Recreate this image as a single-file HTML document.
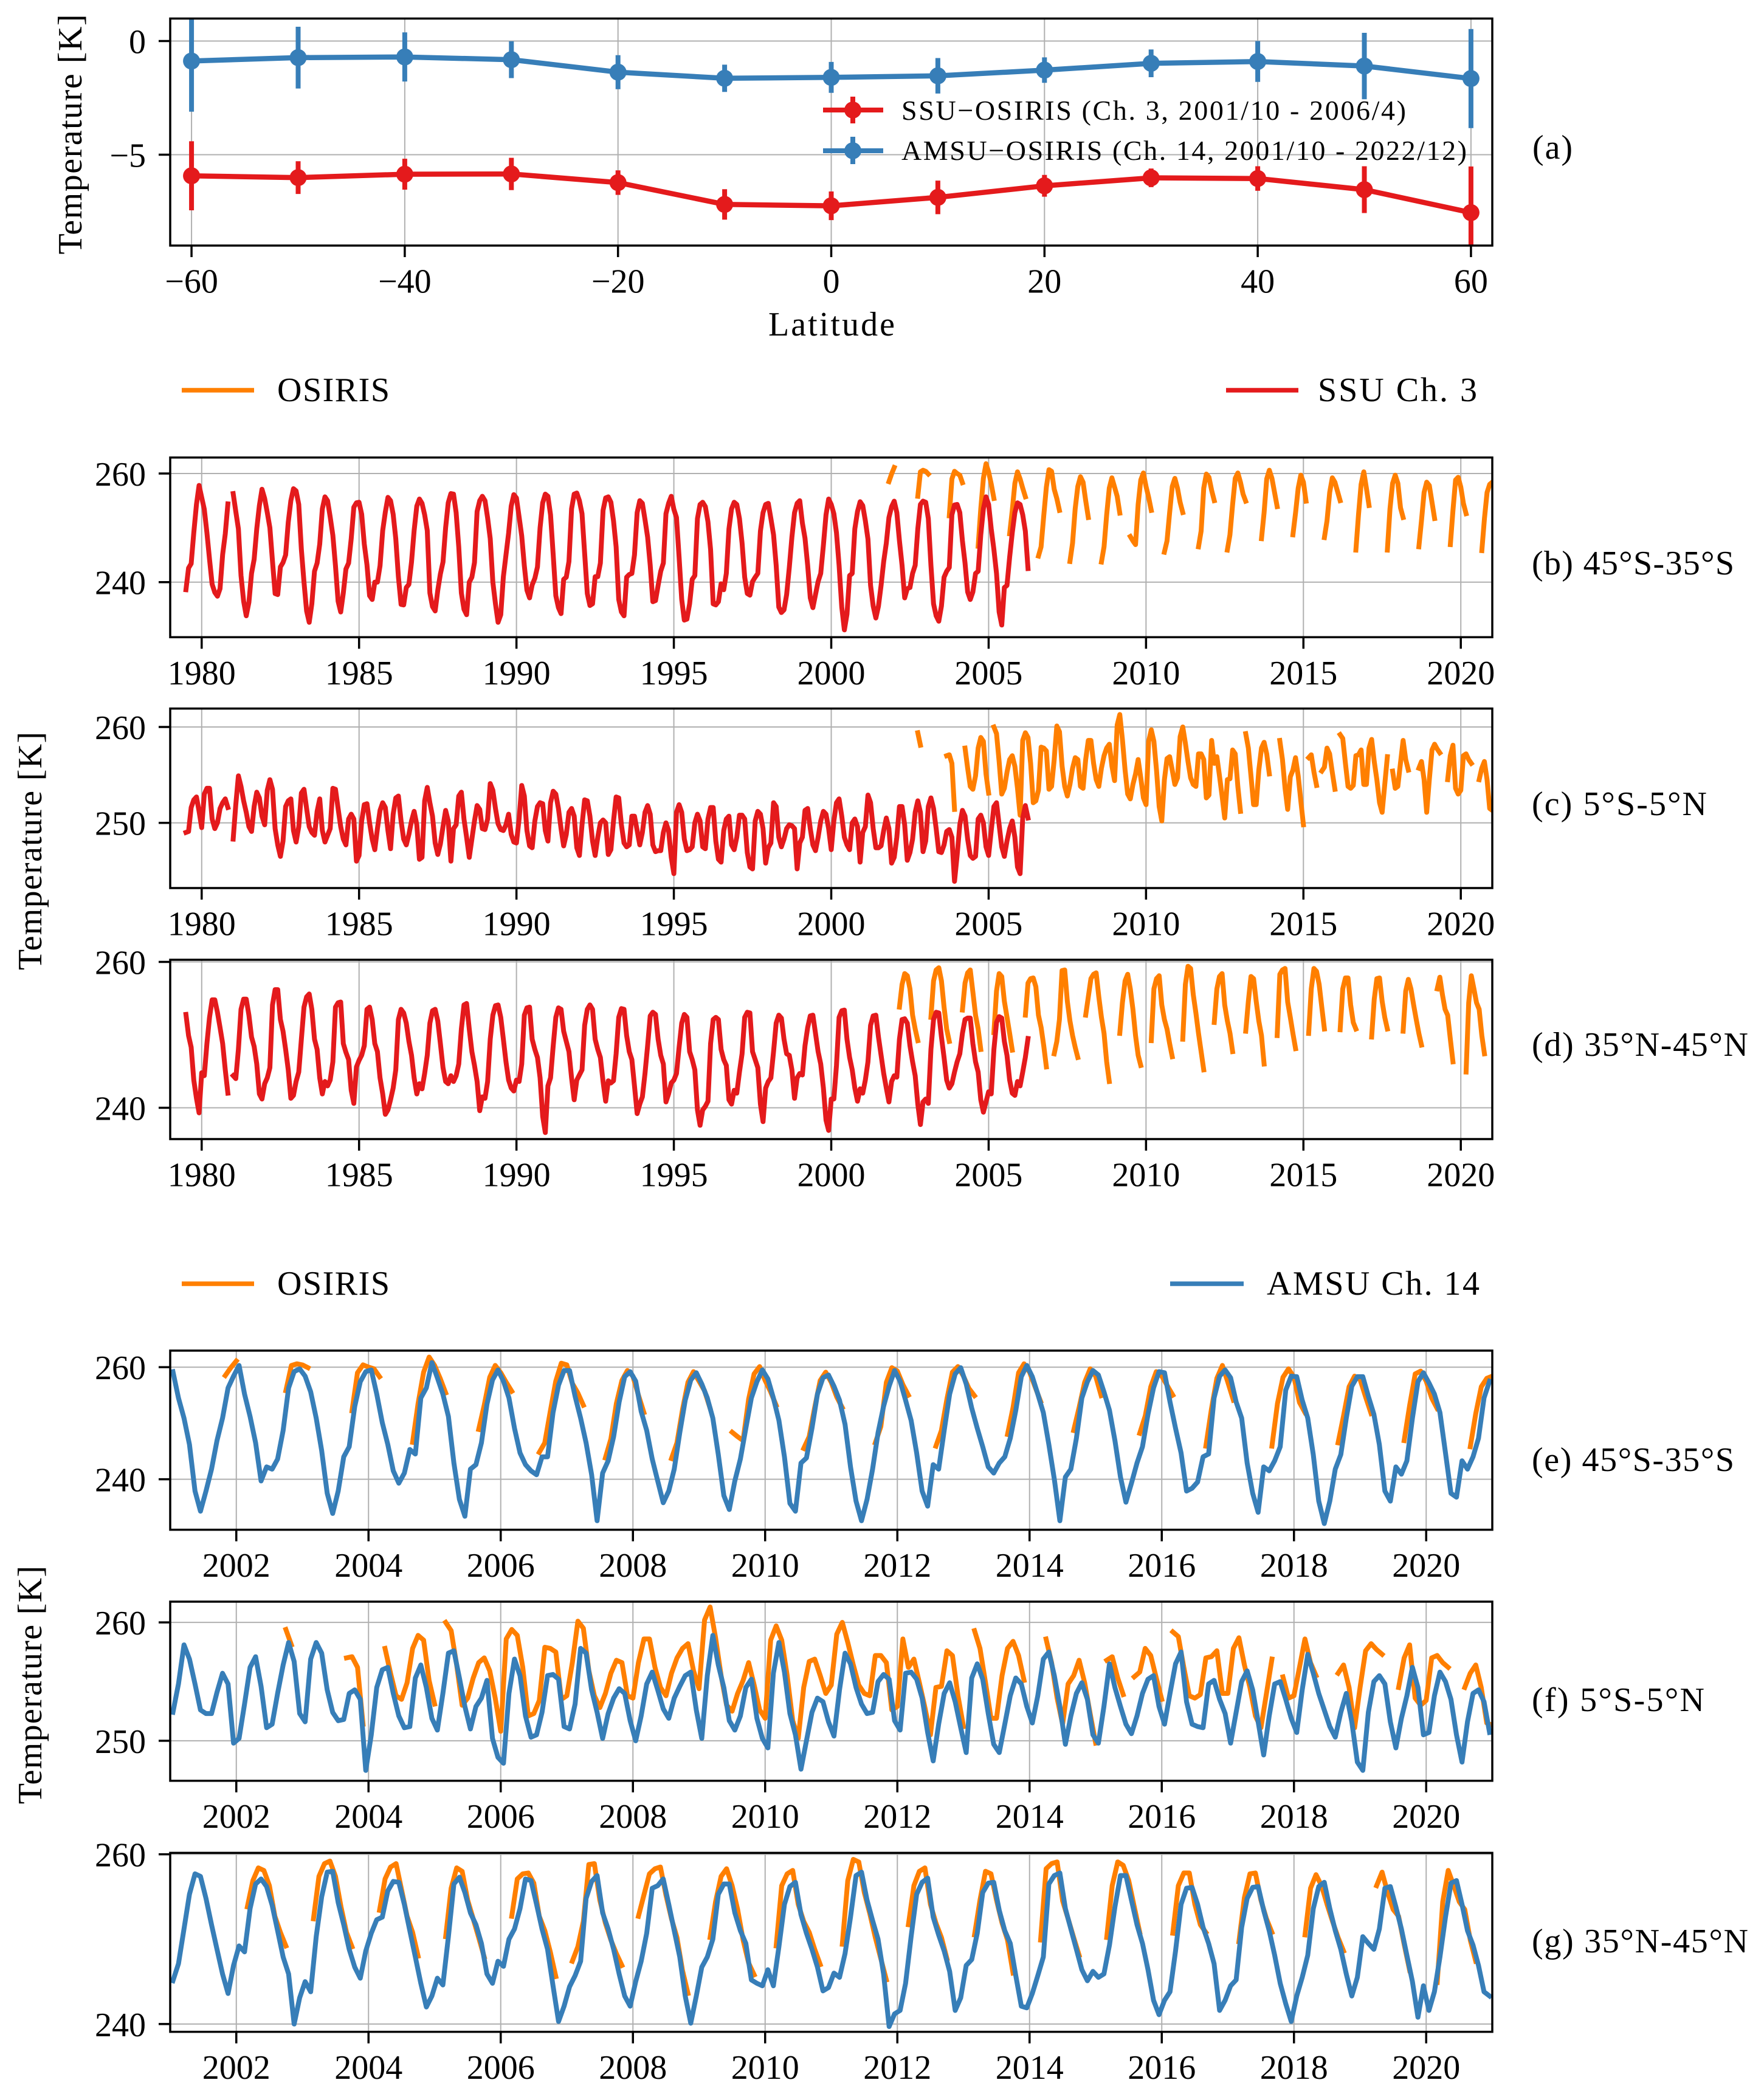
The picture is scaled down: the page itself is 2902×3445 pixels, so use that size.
<!DOCTYPE html>
<html lang="en">
<head>
<meta charset="utf-8">
<title>OSIRIS, SSU and AMSU temperature comparison</title>
<style>
html,body{margin:0;padding:0;background:#fff;}
svg{display:block;}
text{font-family:"Liberation Serif",serif;fill:#000;font-size:56px;}
.leg{font-size:46px;}
</style>
</head>
<body>
<svg id="figure" xmlns="http://www.w3.org/2000/svg" width="2902" height="3445" viewBox="0 0 2902 3445">
<rect x="0" y="0" width="2902" height="3445" fill="#ffffff"/>
<g id="axes-layer"></g>

<text transform="translate(134,221) rotate(-90)" text-anchor="middle" textLength="395" lengthAdjust="spacing">Temperature [K]</text>
<text x="1368" y="552" text-anchor="middle" textLength="208" lengthAdjust="spacing">Latitude</text>
<text transform="translate(68,1400) rotate(-90)" text-anchor="middle" textLength="392" lengthAdjust="spacing">Temperature [K]</text>
<text transform="translate(68,2772) rotate(-90)" text-anchor="middle" textLength="392" lengthAdjust="spacing">Temperature [K]</text>

<g>
  <g>
    <line x1="1354" y1="181" x2="1453" y2="181" stroke="#e41a1c" stroke-width="8"/>
    <line x1="1403" y1="159" x2="1403" y2="203" stroke="#e41a1c" stroke-width="8"/>
    <circle cx="1403" cy="181" r="14" fill="#e41a1c"/>
    <text class="leg" x="1483" y="197" textLength="830" lengthAdjust="spacing">SSU−OSIRIS (Ch. 3, 2001/10 - 2006/4)</text>
  </g>
  <g>
    <line x1="1354" y1="248" x2="1453" y2="248" stroke="#377eb8" stroke-width="8"/>
    <line x1="1403" y1="225" x2="1403" y2="270" stroke="#377eb8" stroke-width="8"/>
    <circle cx="1403" cy="248" r="14" fill="#377eb8"/>
    <text class="leg" x="1483" y="263" textLength="930" lengthAdjust="spacing">AMSU−OSIRIS (Ch. 14, 2001/10 - 2022/12)</text>
  </g>
</g>

<g>
  <g>
    <line x1="299" y1="642" x2="418" y2="642" stroke="#ff7f00" stroke-width="7.5"/>
    <text x="456" y="660" textLength="185" lengthAdjust="spacing">OSIRIS</text>
  </g>
  <g>
    <line x1="2017" y1="642" x2="2136" y2="642" stroke="#e41a1c" stroke-width="7.5"/>
    <text x="2168" y="660" textLength="262" lengthAdjust="spacing">SSU Ch. 3</text>
  </g>
</g>

<g>
  <g>
    <line x1="299" y1="2112" x2="418" y2="2112" stroke="#ff7f00" stroke-width="7.5"/>
    <text x="456" y="2130" textLength="185" lengthAdjust="spacing">OSIRIS</text>
  </g>
  <g>
    <line x1="1925" y1="2112" x2="2046" y2="2112" stroke="#377eb8" stroke-width="7.5"/>
    <text x="2084" y="2130" textLength="350" lengthAdjust="spacing">AMSU Ch. 14</text>
  </g>
</g>

<text x="2521" y="261" textLength="66" lengthAdjust="spacing">(a)</text>
<text x="2520" y="945" textLength="333" lengthAdjust="spacing">(b) 45°S-35°S</text>
<text x="2520" y="1341" textLength="288" lengthAdjust="spacing">(c) 5°S-5°N</text>
<text x="2520" y="1737" textLength="356" lengthAdjust="spacing">(d) 35°N-45°N</text>
<text x="2520" y="2420" textLength="333" lengthAdjust="spacing">(e) 45°S-35°S</text>
<text x="2520" y="2815" textLength="284" lengthAdjust="spacing">(f) 5°S-5°N</text>
<text x="2520" y="3212" textLength="356" lengthAdjust="spacing">(g) 35°N-45°N</text>
</svg>

<script>
// ---------- Panel (a) data ----------
const latitudes = [-60,-50,-40,-30,-20,-10,0,10,20,30,40,50,60];
const ssuDiff = [-5.93,-6.01,-5.86,-5.85,-6.23,-7.19,-7.25,-6.88,-6.37,-6.02,-6.05,-6.54,-7.55];
const ssuErr = [1.52,0.72,0.68,0.71,0.54,0.67,0.63,0.74,0.48,0.41,0.54,1.03,2.03];
const amsuDiff = [-0.88,-0.73,-0.70,-0.82,-1.37,-1.64,-1.60,-1.53,-1.28,-0.98,-0.90,-1.10,-1.65];
const amsuErr = [2.23,1.36,1.08,0.81,0.75,0.60,0.68,0.78,0.56,0.61,0.90,1.46,2.18];

// ---------- Tick labels ----------
const latTicks = [-60,-40,-20,0,20,40,60];
const diffTicks = [0,-5];
const longYearTicks = [1980,1985,1990,1995,2000,2005,2010,2015,2020];
const shortYearTicks = [2002,2004,2006,2008,2010,2012,2014,2016,2018,2020];
const midLatTempTicks = [240,260];
const tropicTempTicks = [250,260];

// ---------- SSU Ch.3 monthly series, from 1979 Jul ----------
const ssuStartYear = 1979.5;
const ssuSouth = [
238.6,242.6,243.4,249.1,254.3,257.8,
255.6,253.4,249.1,244.2,239.6,238.1,237.4,238.8,245.1,248.9,254.4,null,
256.3,253,249.8,241.2,236.5,233.8,236.3,241.6,244.2,249.8,254.1,257.1,
255.4,252.8,250,243.8,237.9,237.7,242.8,243.6,245,251,255,257.2,
256.8,254.3,246,240,234.7,232.6,236,242,243.5,247,253.5,255.7,
255,252,248.6,243,236.5,234.5,238,242.4,243.5,248,253.8,254.6,
254.7,252.5,247,243.2,237.5,236.8,240,240,243,249.5,252.9,255.6,
255,252.5,248,241,235.9,235.8,239,239.6,243.7,249.5,254,255.3,
254.5,252.4,249.5,238,235.5,234.7,238.5,241.5,243.7,250,254.6,256.3,
256.2,252.8,246.5,238,235,234,240,240.9,243.6,253,255,255.8,
255,251.8,248,240,236,232.6,234,241,245,249,254,256.1,
255.5,252,248.5,243,238.5,237.1,239.5,240.7,242.8,250,254.6,256.2,
255.8,252.4,245,237.5,235.3,234.2,240.5,240.9,243.8,253.5,256.2,256.4,
255,252.6,245.3,237.9,235.7,236,241,241,243.5,253.2,255.5,255.7,
254.7,251.3,246.5,236.8,234.5,233.8,240.9,241.4,241.6,245,252.8,255,
254.5,251.5,248.3,243.1,236.4,236.6,239.4,242,243.5,252.6,254.5,255.8,
253.4,251.9,244.6,236.8,233,233.2,236,240.5,241.2,251.7,254.3,254.7,
253.9,251.1,246,236,235.8,236.4,239.7,238.6,241.6,249.8,253.5,254.7,
254.3,251.7,247.2,240.9,237.9,237.6,240.1,240.9,241.6,249.4,252.8,254.3,
254.5,251.7,248.7,243.1,235.4,234.4,234.9,237.7,242.7,248.3,252.8,254.5,
255,250.9,248.1,243.1,237.1,235.3,237.7,240.1,241.6,246.8,252.4,255.3,
254.3,252.6,249.1,243.1,235.4,231.2,234.1,241.2,241.6,249.8,253,254.8,
254.1,251.3,247.9,239.4,235.6,233.4,235.6,239.4,243.8,247.2,251.9,253.9,
254.9,252.8,247.6,243.1,237.1,238.8,239,241.6,243.1,249.8,254.3,254.9,
254.7,251.7,243.1,236,233.8,232.8,235.6,240.9,242,242.7,252.4,254.2,
254.3,252.8,247.6,243.5,238.2,236.8,238.2,241.6,242,248.7,253.5,255.7,
254.3,249.8,246,241.6,234.5,232.1,239,239.4,244.6,249.1,252.8,254.6,
254.3,252.4,249.4,242.5
];
const ssuEquator = [
249,249.1,251.6,252.4,252.7,251.2,
249.5,253,253.6,253.6,250.4,249.4,250,251.5,252.1,252.5,251.6,null,
248.3,251.9,254.9,253.8,252.3,251.1,249.6,249.1,251.7,253.2,252.6,250.7,
249.8,253.4,254.5,253.5,249.4,247.7,246.5,248.1,251.7,252.3,252.5,249.2,
248,249.6,253.1,253.5,251.5,249.6,249,248.7,251.2,252.5,249.2,248,
248.7,249.4,253.6,253.5,251.5,249.6,248.3,247.7,250.4,250.9,250.4,246,
246.6,250.2,251.9,252,250,248.3,247.2,249.4,251.3,252.1,251.6,249.2,
247.3,250.9,252.6,252.8,250.2,248.3,247.7,248.8,250.2,251.2,249.8,246.2,
246.4,252.3,253.7,252.1,250.7,247.9,246.7,247.8,249.6,251.3,250.2,246,
249.4,249.8,252.8,253.2,250.4,248.5,246.4,248.3,250.2,251.8,251.4,249.4,
249.3,250.4,254.1,253.4,251.5,249.9,249.3,249.2,249.8,250.9,248.8,248,
247.9,250.4,253.9,252.8,249.2,247.6,247.4,250.2,251.7,252.1,252,249.2,
248.1,252.1,253.3,253,251.5,249.4,247.6,248.8,251.1,251.5,250.7,247.4,
246.6,249.8,252.4,252.3,250.7,248.1,246.6,248.5,250,250.3,250,246.7,
247.2,250.2,252.7,252.6,249.8,247.9,247.5,247.7,250.7,250.7,249.2,247.7,
249,251.1,251.8,250.9,247.7,247,247.1,247.1,249,250,249.2,246.4,
244.7,251.1,251.9,251.1,248.3,247.1,247.2,247.5,250,250.9,250.2,247.5,
247.3,250.4,251.6,251.6,248.1,246.2,245.9,249.2,250.4,250.7,247.7,247.2,
248.5,250.8,250.8,250.4,246.9,245.4,245.2,250.2,251.2,250.9,249.4,245.8,
247.4,247.9,252.1,251.7,248.5,247.5,248.3,249.4,249.8,249.7,249.4,245.2,
247.9,248.5,251.3,251.5,249.4,247.7,247.1,248.5,250.2,251.2,250.9,249.4,
247.2,250.2,252.1,252.5,250.7,248.5,247.7,247.2,250,250.4,249.6,245.9,
249,249.6,252.9,252.1,249.4,247.4,247.4,247.6,249.2,250.5,249.4,245.8,
246.4,248.5,251.7,251.7,249.8,246.1,246.9,248.3,251.1,252.3,251.1,247,
248.1,251.7,252.6,251.5,249.4,247,246.9,247.7,249.1,249.3,248.5,243.9,
246.6,249.8,251.3,250.7,248.3,246.6,246.3,246.5,250.4,250.8,250,247.5,
246.6,249.2,251.7,252.1,249.8,247.5,246.5,248.1,249.4,250.2,248.5,245.4,
244.7,250.5,251.8,250.5
];
const ssuNorth = [
252.8,249.9,248.3,243.8,241.3,239.3,
244.8,244.4,248.8,252.4,254.8,254.8,253.1,251,248.8,245.2,242,null,
244.4,244,248,253.5,254.9,254.9,252.7,249.7,248.4,246,241.9,241.2,
243.3,244.1,245.5,254.1,256.2,256.2,252.1,250.5,248,245.2,241.3,241.7,
243.6,244.9,249.4,253.8,255.2,255.6,253.5,249.4,248,244.1,241.9,243.6,
243,243.8,246.3,253.8,254.4,254.5,248.8,247.6,246.6,242.4,240.6,245.6,
246.5,247.2,248.5,253.5,253.8,252.1,248.8,247.7,244.1,241.9,239.1,239.7,
241.1,242.7,245.2,252.1,253.5,253,251.6,249.1,247.2,244.1,241.9,243.3,
242.6,244.7,247.2,251.6,253.3,253.5,251.9,248.8,245.5,243.6,243.3,244.4,
243.6,244.4,246,250.8,254.1,254.3,250.8,247.7,245.8,243.6,239.6,241.5,
241.3,243.6,249.4,252.7,254,254.1,252.4,249.4,246.3,243.8,242.7,242.3,
243.8,243.6,246,252.7,253.7,253.8,249.4,248,246.9,244.1,238.8,236.6,
243,244.1,248.5,252.4,253.7,253.5,250.5,249.1,247.7,244.1,241.1,243.8,
244.5,245.2,251.3,253.5,254.1,253.5,249.4,248,246.9,243.6,240.9,243.7,
243.4,243.7,247.4,252.4,253.6,253.5,249.9,247.7,246.6,243,239.2,240.5,
241.5,244.7,248.5,252.6,253.1,252.8,249.4,247.2,246,240.8,241.9,243.4,
243.8,244.7,248.3,251.6,252.8,252.4,247.7,246.6,245.2,239.7,237.6,239.7,
240.2,240.9,248.8,252.1,252.4,252.1,248,246.6,245.8,241.1,240.5,242.4,
242,244.9,247.4,252.4,253.1,253,247.7,246.6,245.5,240.5,238.1,242.7,
243.6,244.1,247.7,251.6,252.7,252.3,249.4,247.4,247.2,245.2,241.3,244.1,
244.7,244.5,248.5,251,252.6,252.7,250.2,247.7,246,242.7,238.3,236.9,
241.2,241.2,245.8,252.4,253.3,253.4,249.4,246.9,245.2,242.7,240.9,242.6,
242,243.8,246.3,251.3,252.6,252.7,249.7,247.2,244.7,242.7,240.8,243.6,
244.4,244.2,249.4,252.1,252.2,251.6,248.5,246.3,244.4,240.5,237.7,240.8,
241.2,240.6,248,252.1,253.1,253,249.7,246.9,243.8,242.7,243.3,244.9,
246.3,247.4,250.2,252.1,252.3,252.3,248.8,246.3,244.9,241.1,239.4,240.8,
242.2,241.9,248,251.7,252.5,252.3,249.1,247.2,243.8,242,241.7,243.6,
243,244.9,246.9,249.5
];

// ---------- AMSU Ch.14 monthly series, from 2001 Jan (mid-month) ----------
const amsuStartYear = 2001.0417;
const amsuSouth = [
259.2,254.5,250.9,246.2,237.9,234.3,237.9,241.8,246.9,250.9,256.3,258.4,
260.3,255.2,251.2,246.5,239.7,242.2,241.8,243.6,248.7,256.3,259.2,259.7,
258.4,255.6,250.9,245.1,237.5,233.9,237.9,244,245.8,253,257.4,259.2,
259.5,255.2,250.1,246.2,241.5,239.3,241.1,245.3,244.5,254.5,256.3,260.8,
258.1,255.2,251.2,242.9,236.4,233.4,241.8,242.6,246.5,253.4,257.7,259.5,
257.5,254.5,249.1,244.7,242.6,241.5,240.8,244,244,251.9,256.8,259.4,
259.4,254.8,250.9,246.5,240.8,232.6,241.1,243.3,247.6,253.8,258.3,259.2,
257.5,252.1,248.7,243.6,239.7,235.8,237.9,241.8,248.3,254.1,257.7,259,
257,254.5,250.9,244.4,237.1,234.6,239.7,243.6,249.1,254.5,257.4,259.5,
257.9,254.5,250.5,244,235.7,234.3,242.9,243.8,249.1,255.2,258.1,258.6,
256.6,254.1,249.8,242.2,236.1,232.6,236.4,241.8,248.3,253,256.6,259.4,
257.5,254.1,250.5,244.7,237.9,235.2,242.6,241.8,248.7,255.2,258.8,259.9,
257,252.7,249.1,245.8,242.2,241.1,242.9,244,247.3,252.3,258.3,260.3,
258.3,255.2,251.9,246.2,240,232.6,240.4,241.8,247.3,254.5,257.4,259.4,
258.6,255.6,252.3,246.9,240.4,235.9,239.3,242.9,245.8,251.6,256.3,259.2,
259,253.8,249.1,244.7,237.9,238.4,239.5,244,244.5,254.5,258.4,259.5,
258.1,253.8,250.9,242.9,237.5,234.1,242.2,241.5,243.3,245.8,255.9,258.4,
258.3,254.1,250.9,244.4,236.1,232.1,236.1,241.8,244.4,250.9,256.6,258.3,
258.3,254.8,251.6,246.2,237.9,236.1,242.2,240.9,243.3,250.9,257.4,259,
257.2,255.2,251.9,244.7,237.5,236.8,243.3,241.8,244,247.3,254.5,257.5
];
const amsuEquator = [
252.4,254.8,258.1,256.9,254.8,252.6,252.3,252.3,254.1,255.7,254.8,249.8,
250.2,253.1,256.2,257.1,254.6,251.1,251.4,254,256.4,258.3,256.7,252.3,
251.6,256.9,258.3,257.4,254.3,252.4,251.7,251.8,254,254.3,253.5,247.5,
250.5,254.5,256,256.2,254,252.1,251.1,251.2,255.3,256.4,254.5,251.9,
250.9,254,257.4,257.6,255.3,252.9,251,252.9,253.6,255.1,250.2,248.6,
248.1,254,256.9,255.5,252.1,250.3,250.5,252.4,255.5,255.6,255.2,251.2,
251,253.1,257.8,257.4,254.3,252.4,250.2,252.3,253.6,254.4,254,251.7,
250,252.1,254.8,255.8,254.3,252.7,251.9,253.6,254.6,255.5,255.8,252.6,
250.2,255.5,258.9,256.4,254.5,251.7,250.9,252.1,254.5,255.2,251.9,250.2,
249.4,255.7,258.3,255.8,252.3,250.5,247.6,250,252.4,253.6,253.3,251.6,
250.4,254.3,257.4,256.5,254.5,253.1,252.3,252.4,255,255.6,255.2,251.7,
250.9,255.7,255.8,255.2,253.6,250.7,248.3,251.4,254,254.9,253.3,251.1,
249,255.3,256.5,255.2,252.3,249.7,249,251.4,253.8,255.3,254.8,252.9,
251.5,253.8,256.9,257.5,255.5,252.9,249.7,252.1,254,254.9,253.5,250.5,
249.8,252.9,256.5,254.5,252.9,251.4,250.6,252.1,254,255.2,255.5,252.9,
251.4,254,256.5,257.5,253.3,251.4,251.2,251.1,254.8,255.1,253.5,252.3,
249.8,252.4,255,255.9,254.3,251.6,248.8,252.1,254.8,255,253.5,251.9,
250.7,254.3,257.3,255.7,254,252.6,251.2,250.3,252.4,254,251.6,248.2,
247.5,252.4,255,255.5,254.8,251.6,249.4,251.9,253.8,256.2,254.5,250.5,
250.7,253.8,255.8,255,253.5,250.5,248.2,251.6,254,254.3,253.3,250.7
];
const amsuNorth = [
245.1,247.1,251.2,255.3,257.7,257.4,254.8,251.7,248.8,245.9,243.6,246.9,
249.2,248.5,253.6,256.5,257.1,256.2,254,251,247.9,245.9,240,243.1,
245,243.8,250.3,255,257.9,258,254.3,251.7,248.8,246.7,245.4,248.6,
250.7,252.3,252.6,255.7,256.8,256.7,254.1,251,247.9,244.8,242,243.3,
245.4,244.6,250.3,256.5,257.3,255.5,253.1,251.7,249.5,245.9,244.8,247.4,
246.8,250,251.2,253.6,257.1,256.9,254.1,251.2,248.8,244.5,240.3,242.1,
244.4,245.7,247.4,254.8,256.8,257.5,253.1,251.2,248.8,245.9,243.3,242.1,
245,247.4,250.7,256,256.3,257.1,254.1,251,247.9,243.3,240.1,243.3,
246.7,247.9,250,255.3,256.5,256.5,253.1,251,249.5,245.2,244.8,244.5,
246.4,244.5,249.1,254.1,256.2,256.7,252.9,250.7,248.8,246.7,243.9,244.3,
246,245.5,248.3,252.6,257.5,257.9,254.6,252.2,250,245.9,239.7,241.2,
241.6,244.8,250.3,255.3,256.7,257.2,252.6,250.5,248.6,246.2,241.6,243.1,
246.9,247.6,250.7,255.5,256.6,256.7,253.4,251,249.5,245.7,242.1,241.9,
243.6,245.7,247.9,256.5,257.5,257.8,253.6,251.2,248.8,246.4,245.1,246.2,
245.5,245.9,249.3,253.8,257.5,257.5,254.6,251.7,249.5,246.4,242.8,241.1,
242.8,243.8,248.6,254.1,256,256.1,254.1,251.4,249.5,247.1,241.6,242.8,
244.5,245.2,251.4,254.8,256.1,256.2,253.4,251,248.1,244.8,242.4,240.3,
243.3,245.5,248.1,253.6,256.2,256.7,253.6,251,248.8,245.9,243.3,245.5,
250.3,249.5,248.8,251.2,256,256.2,253.8,251.2,248.1,245,240.8,244.5,
241.6,243.8,247.9,252.6,256.6,256.9,254.1,251,249.3,246.9,243.8,243.3
];

// ---------- OSIRIS observing segments (first month as decimal year + monthly values) ----------
const osirisSouthStarts = [2001.833,2002.75,2003.75,2004.667,2005.667,2006.583,2007.583,2008.583,2009.5,2010.583,2011.667,2012.583,2013.667,2014.667,2015.667,2016.667,2017.667,2018.667,2019.667,2020.667];
const osirisSouthValues = [
[258.5,259.9,261.1],
[255.8,260.3,260.6,260.4,259.9],
[252.2,259,260.4,260,259.7,258.3],
[246.6,253.5,259.1,261.8,260.3,258,255.4],
[248.9,253.2,258.2,260.3,259,257.3,255.7],
[244.8,246.5,252.1,257.5,260.7,260.4,257.1,255.4,253.2],
[243.8,247.2,253.5,257.6,259.4,258.4,255,251.9],
[243.7,246.5,252.4,257.3,259.2,257.5,255.8,252.7],
[248.4,247.6,246.9,254.3,258.8,260.1,257.6,255.6,253.2],
[245.5,247.6,252.8,257.6,259.1,257.3,254.7,252.8],
[246.5,249.4,257.3,259.9,259.3,256.9,255],
[245.9,248.7,254.3,259.1,260.1,258.4,256.2,254.9],
[248,252.8,259,260.6,259.1,256.5,253.9],
[248.7,252.8,257.3,259.7,258.4,254.9],
[248.2,251.3,256.5,259.2,258.4,256.7,255],
[245.9,252.4,258,260.3,257.3,254.1],
[245.9,253.5,258.2,259.7,258.2,253.7,251.9],
[246.5,251.3,256.5,258.4,257.8,254.7,251.7],
[246.9,253.2,258.8,259.3,257.5,254.5,252.6],
[245.8,251.7,256.5,258,258.4]
];
const osirisEquatorStarts = [2002.75,2003.667,2004.25,2005.167,2013.167,2014.25,2015.167,2015.583,2016.167,2017.833,2018.667,2019.583,2020.583];
const osirisEquatorValues = [
[259.4,258.1],
[257,257.1,256.2,251.4],
[257.8,255.7,253.8,253.5,254.9,257.8,258.9,258.5,255.1,253.1],
[260,259.3,256.4,253,253.6,255.3,256.6,257,255.9,253.6,
 250.8,258.6,259.4,258.9,256.2,252.1,252.3,253.4,257.9,257.8,257.5,253.5,
 253.8,256.6,260.1,259.5,255.9,253.8,252.8,254,255.7,256.8,256.6,253.8,
 253.6,256.6,258.6,258.6,256.2,254.5,253.8,255.7,257,257.8,258.2,255.9,
 254.4,260.2,261.3,258.7,255.5,253,252.5,254,255.1,256.6,254.7,252.6,
 251.9,258.5,259.7,258.5,255.5,251.7,250.2,254.5,256.7,256.9,255.5,254,
 254.7,259,260,258.3,256.4,254.7,254,253.8,257.2,257.2,256.6,252.6,
 252.9,258.6,256.2,256.9,254.9,252.8,250.5,254.5,254.6,257.6,257.2,253.8,
 251.2],
[259.3,257.8,254.9,251.9,251.9,255.5,257.8,258.4,257.2,255.1],
[258.6,256.6,253.6,251.4,254.8,255.5,256.8,254.9,252.3,249.8],
[256.8,257.1,255.3,253.9],
[255.4,255.8,257.8,257.2,255.3,253.5],
[259.2,258.8,256.2,253.8,253.6,253.9,257,257.1,257.6,254,254,257.8,258.7,256.4,254.5,252.1,251.1,254,256.9],
[255.4,253.6,253.8,256.2,258.6,256.6,255.5],
[255.7,256.4,254.5,251.1,254.5,257.6,258.2,257.7,257.3],
[254.5,257,258.1,253.6,253,253.4,257,257.2,256.6,256.2],
[254.5,255.7,256.4,254.5,251.5,251.3]
];
const osirisNorthStarts = [2002.167,2003.167,2004.167,2005.167,2006.167,2007.083,2008.083,2009.167,2010.167,2011.167,2012.167,2013.167,2014.167,2015.167,2016.167,2017.167,2018.167,2019.25,2020.167];
const osirisNorthValues = [
[253.8,256.9,258.4,258.1,256.3,252.7,250.8,249.2],
[252.4,257.4,258.9,259.2,257.4,253.8,250.8,249.1],
[253.4,257.1,258.5,258.9,255.8,252.7,250.8,248],
[250.3,256,258.4,258,254.6,252.4,250.2,247.9],
[252.7,257.1,257.7,257.8,256.6,252.7,251,248.5,245.6],
[247.4,249.1,252.1,258.8,258.9,254.6,251.9,249.9,248.3,246.9],
[252.7,255.2,257.7,258.3,258.5,255.2,252.4,250.2,246.3,243.6],
[250.2,254.4,257.4,258.3,256.3,253.5,249.9,247.2,245.8],
[249.2,256.3,257.7,258.1,254.1,252.1,250.8,248.8,247],
[249.4,256.9,259.4,259.1,255.5,253,250.2,247.7,245.2],
[251.7,256.3,258,258.4,254.1,251.9,250.2,247.7],
[250.5,254.6,258,257.7,254.6,251.9,249.9,246],
[249.9,258.3,258.9,259.1,254.5,252.4,250.2,248.1],
[250.2,256.3,259.1,258.7,256.9,253.8,250.8],
[250.7,256.3,257.8,257.8,254.1,251.7,250.8],
[249.7,254.9,257.7,257.8,254.6,252.4,250.8],
[250.5,256,257.6,256.3,254.1,252.1,250.2,248.6],
[256.3,257.9,255.5,253.5,252.7,249.4,246.3],
[244.9,254.4,258.1,256.3,254.4,253.5,249.9,247.4]
];

// ---------- Drawing ----------
const SVGNS = 'http://www.w3.org/2000/svg';
const RED = '#e41a1c', BLUE = '#377eb8', ORANGE = '#ff7f00', GRID = '#b0b0b0';
const LEFT = 280, RIGHT = 2455;
const layer = document.getElementById('axes-layer');

function svgEl(tag, attrs, parent) {
  const node = document.createElementNS(SVGNS, tag);
  for (const k in attrs) node.setAttribute(k, attrs[k]);
  parent.appendChild(node);
  return node;
}
function xScale(p, v) { return LEFT + (v - p.x0) / (p.x1 - p.x0) * (RIGHT - LEFT); }
function yScale(p, v) { return p.bottom - (v - p.y0) / (p.y1 - p.y0) * (p.bottom - p.top); }

function fmt(v) { return String(v).replace('-', '\u2212'); }

function drawAxes(p) {
  const g = svgEl('g', {}, layer);
  
  
  const clip = svgEl('clipPath', {id: `clip-${p.id}`}, g);
  svgEl('rect', {x: LEFT, y: p.top, width: RIGHT - LEFT, height: p.bottom - p.top}, clip);

  p.xTicks.forEach(function (t) {
    const x = xScale(p, t);
    const grid = svgEl('line', {x1: x, x2: x, y1: p.top, y2: p.bottom, stroke: GRID, 'stroke-width': 2}, g);
    
    
    const tick = svgEl('line', {x1: x, x2: x, y1: p.bottom, y2: p.bottom + 19, stroke: '#000', 'stroke-width': 3.5}, g);
    
    
    const lab = svgEl('text', {x: x, y: p.bottom + 77.5, 'text-anchor': 'middle'}, g);
    
    
    lab.textContent = fmt(t);
  });
  p.yTicks.forEach(function (t) {
    const y = yScale(p, t);
    const grid = svgEl('line', {x1: LEFT, x2: RIGHT, y1: y, y2: y, stroke: GRID, 'stroke-width': 2}, g);
    
    
    const tick = svgEl('line', {x1: LEFT - 19, x2: LEFT, y1: y, y2: y, stroke: '#000', 'stroke-width': 3.5}, g);
    
    
    const lab = svgEl('text', {x: 240, y: y + 20, 'text-anchor': 'end'}, g);
    
    
    lab.textContent = fmt(t);
  });
  const plot = svgEl('g', {'clip-path': `url(#clip-${p.id})`}, g);
  
  
  p.plot = plot;
  p.group = g;
}
function drawFrame(p) {
  const frame = svgEl('rect', {x: LEFT, y: p.top, width: RIGHT - LEFT, height: p.bottom - p.top, fill: 'none', stroke: '#000', 'stroke-width': 3.5}, p.group);
  
  
}
function monthlyPath(p, start, values) {
  let d = '', pen = false;
  values.forEach(function (v, i) {
    if (v === null) { pen = false; return; }
    d += (pen ? 'L' : 'M') + xScale(p, start + i / 12).toFixed(1) + ' ' + yScale(p, v).toFixed(1);
    pen = true;
  });
  return d;
}
function drawMonthly(p, start, values, color, name) {
  const line = svgEl('path', {d: monthlyPath(p, start, values), fill: 'none', stroke: color, 'stroke-width': 8, 'stroke-linecap': 'square', 'stroke-linejoin': 'round'}, p.plot);
  
  
}
function drawSegments(p, starts, lists, color, name) {
  let d = '';
  lists.forEach(function (values, i) { d += monthlyPath(p, starts[i], values); });
  const line = svgEl('path', {d: d, fill: 'none', stroke: color, 'stroke-width': 8, 'stroke-linecap': 'square', 'stroke-linejoin': 'round'}, p.plot);
  
  
}
function drawErrorSeries(p, lats, values, errs, color, name) {
  let d = '';
  lats.forEach(function (lat, i) {
    d += (i ? 'L' : 'M') + xScale(p, lat).toFixed(1) + ' ' + yScale(p, values[i]).toFixed(1);
  });
  lats.forEach(function (lat, i) {
    const x = xScale(p, lat);
    const bar = svgEl('line', {x1: x, x2: x, y1: yScale(p, values[i] + errs[i]), y2: yScale(p, values[i] - errs[i]), stroke: color, 'stroke-width': 8}, p.plot);
    
    
  });
  const line = svgEl('path', {d: d, fill: 'none', stroke: color, 'stroke-width': 8.5, 'stroke-linejoin': 'round'}, p.plot);
  
  
  lats.forEach(function (lat, i) {
    const dot = svgEl('circle', {cx: xScale(p, lat), cy: yScale(p, values[i]), r: 14, fill: color}, p.plot);
    
    
  });
}

const panelA = {id:'a', top:30.5, bottom:404, x0:-62, x1:62, y0:-9, y1:0.99, xTicks:latTicks, yTicks:diffTicks};
const panelB = {id:'b', top:752.7, bottom:1048.3, x0:1979, x1:2021, y0:229.86, y1:262.94, xTicks:longYearTicks, yTicks:midLatTempTicks};
const panelC = {id:'c', top:1165.7, bottom:1461, x0:1979, x1:2021, y0:243.2, y1:261.92, xTicks:longYearTicks, yTicks:tropicTempTicks};
const panelD = {id:'d', top:1579, bottom:1874, x0:1979, x1:2021, y0:235.71, y1:260.29, xTicks:longYearTicks, yTicks:midLatTempTicks};
const panelE = {id:'e', top:2222, bottom:2516.7, x0:2001, x1:2021, y0:230.99, y1:262.95, xTicks:shortYearTicks, yTicks:midLatTempTicks};
const panelF = {id:'f', top:2635, bottom:2929.7, x0:2001, x1:2021, y0:246.62, y1:261.75, xTicks:shortYearTicks, yTicks:tropicTempTicks};
const panelG = {id:'g', top:3048.3, bottom:3342.7, x0:2001, x1:2021, y0:239.08, y1:260.17, xTicks:shortYearTicks, yTicks:midLatTempTicks};

[panelA,panelB,panelC,panelD,panelE,panelF,panelG].forEach(drawAxes);

drawErrorSeries(panelA, latitudes, ssuDiff, ssuErr, RED, 'ssu-osiris');
drawErrorSeries(panelA, latitudes, amsuDiff, amsuErr, BLUE, 'amsu-osiris');

drawSegments(panelB, osirisSouthStarts, osirisSouthValues, ORANGE, 'osiris-line');
drawMonthly(panelB, ssuStartYear, ssuSouth, RED, 'ssu-ch3-line');
drawSegments(panelC, osirisEquatorStarts, osirisEquatorValues, ORANGE, 'osiris-line');
drawMonthly(panelC, ssuStartYear, ssuEquator, RED, 'ssu-ch3-line');
drawSegments(panelD, osirisNorthStarts, osirisNorthValues, ORANGE, 'osiris-line');
drawMonthly(panelD, ssuStartYear, ssuNorth, RED, 'ssu-ch3-line');

drawSegments(panelE, osirisSouthStarts, osirisSouthValues, ORANGE, 'osiris-line');
drawMonthly(panelE, amsuStartYear, amsuSouth, BLUE, 'amsu-ch14-line');
drawSegments(panelF, osirisEquatorStarts, osirisEquatorValues, ORANGE, 'osiris-line');
drawMonthly(panelF, amsuStartYear, amsuEquator, BLUE, 'amsu-ch14-line');
drawSegments(panelG, osirisNorthStarts, osirisNorthValues, ORANGE, 'osiris-line');
drawMonthly(panelG, amsuStartYear, amsuNorth, BLUE, 'amsu-ch14-line');

[panelA,panelB,panelC,panelD,panelE,panelF,panelG].forEach(drawFrame);
</script>
</body>
</html>
